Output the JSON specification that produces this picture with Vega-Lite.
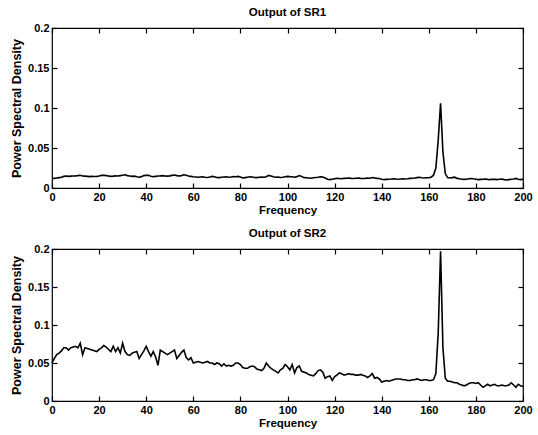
{
  "$schema": "https://vega.github.io/schema/vega-lite/v6.json",
  "background": "white",
  "padding": {"left": 9, "top": 5, "right": 5, "bottom": 5},
  "datasets": {
    "psd": [
      {"f":0,"sr1":0.0120,"sr2":0.050},{"f":1,"sr1":0.0120,"sr2":0.056},{"f":2,"sr1":0.0125,"sr2":0.061},{"f":3,"sr1":0.0130,"sr2":0.063},{"f":4,"sr1":0.0135,"sr2":0.066},
      {"f":5,"sr1":0.0145,"sr2":0.070},{"f":6,"sr1":0.0150,"sr2":0.070},{"f":7,"sr1":0.0145,"sr2":0.067},{"f":8,"sr1":0.0148,"sr2":0.070},{"f":9,"sr1":0.0150,"sr2":0.071},
      {"f":10,"sr1":0.0152,"sr2":0.072},{"f":11,"sr1":0.0155,"sr2":0.070},{"f":12,"sr1":0.0160,"sr2":0.076},{"f":13,"sr1":0.0150,"sr2":0.061},{"f":14,"sr1":0.0148,"sr2":0.070},
      {"f":15,"sr1":0.0145,"sr2":0.069},{"f":16,"sr1":0.0142,"sr2":0.068},{"f":17,"sr1":0.0145,"sr2":0.067},{"f":18,"sr1":0.0143,"sr2":0.066},{"f":19,"sr1":0.0145,"sr2":0.065},
      {"f":20,"sr1":0.0150,"sr2":0.068},{"f":21,"sr1":0.0158,"sr2":0.070},{"f":22,"sr1":0.0160,"sr2":0.073},{"f":23,"sr1":0.0155,"sr2":0.071},{"f":24,"sr1":0.0150,"sr2":0.068},
      {"f":25,"sr1":0.0145,"sr2":0.065},{"f":26,"sr1":0.0148,"sr2":0.072},{"f":27,"sr1":0.0152,"sr2":0.065},{"f":28,"sr1":0.0150,"sr2":0.070},{"f":29,"sr1":0.0155,"sr2":0.063},
      {"f":30,"sr1":0.0160,"sr2":0.076},{"f":31,"sr1":0.0165,"sr2":0.065},{"f":32,"sr1":0.0155,"sr2":0.061},{"f":33,"sr1":0.0150,"sr2":0.060},{"f":34,"sr1":0.0145,"sr2":0.063},
      {"f":35,"sr1":0.0148,"sr2":0.064},{"f":36,"sr1":0.0140,"sr2":0.065},{"f":37,"sr1":0.0135,"sr2":0.056},{"f":38,"sr1":0.0142,"sr2":0.061},{"f":39,"sr1":0.0155,"sr2":0.066},
      {"f":40,"sr1":0.0160,"sr2":0.072},{"f":41,"sr1":0.0158,"sr2":0.065},{"f":42,"sr1":0.0148,"sr2":0.059},{"f":43,"sr1":0.0140,"sr2":0.065},{"f":44,"sr1":0.0145,"sr2":0.058},
      {"f":45,"sr1":0.0150,"sr2":0.047},{"f":46,"sr1":0.0152,"sr2":0.067},{"f":47,"sr1":0.0155,"sr2":0.065},{"f":48,"sr1":0.0150,"sr2":0.063},{"f":49,"sr1":0.0148,"sr2":0.061},
      {"f":50,"sr1":0.0152,"sr2":0.063},{"f":51,"sr1":0.0158,"sr2":0.065},{"f":52,"sr1":0.0162,"sr2":0.067},{"f":53,"sr1":0.0155,"sr2":0.056},{"f":54,"sr1":0.0150,"sr2":0.060},
      {"f":55,"sr1":0.0155,"sr2":0.064},{"f":56,"sr1":0.0165,"sr2":0.067},{"f":57,"sr1":0.0160,"sr2":0.057},{"f":58,"sr1":0.0150,"sr2":0.054},{"f":59,"sr1":0.0145,"sr2":0.057},
      {"f":60,"sr1":0.0140,"sr2":0.050},{"f":61,"sr1":0.0138,"sr2":0.051},{"f":62,"sr1":0.0135,"sr2":0.052},{"f":63,"sr1":0.0138,"sr2":0.051},{"f":64,"sr1":0.0140,"sr2":0.050},
      {"f":65,"sr1":0.0135,"sr2":0.051},{"f":66,"sr1":0.0132,"sr2":0.052},{"f":67,"sr1":0.0138,"sr2":0.050},{"f":68,"sr1":0.0145,"sr2":0.050},{"f":69,"sr1":0.0140,"sr2":0.048},
      {"f":70,"sr1":0.0132,"sr2":0.050},{"f":71,"sr1":0.0130,"sr2":0.049},{"f":72,"sr1":0.0135,"sr2":0.046},{"f":73,"sr1":0.0138,"sr2":0.049},{"f":74,"sr1":0.0140,"sr2":0.046},
      {"f":75,"sr1":0.0135,"sr2":0.047},{"f":76,"sr1":0.0138,"sr2":0.046},{"f":77,"sr1":0.0142,"sr2":0.047},{"f":78,"sr1":0.0140,"sr2":0.050},{"f":79,"sr1":0.0145,"sr2":0.050},
      {"f":80,"sr1":0.0138,"sr2":0.048},{"f":81,"sr1":0.0125,"sr2":0.044},{"f":82,"sr1":0.0130,"sr2":0.043},{"f":83,"sr1":0.0135,"sr2":0.043},{"f":84,"sr1":0.0140,"sr2":0.045},
      {"f":85,"sr1":0.0138,"sr2":0.046},{"f":86,"sr1":0.0132,"sr2":0.045},{"f":87,"sr1":0.0130,"sr2":0.042},{"f":88,"sr1":0.0135,"sr2":0.041},{"f":89,"sr1":0.0138,"sr2":0.040},
      {"f":90,"sr1":0.0135,"sr2":0.043},{"f":91,"sr1":0.0140,"sr2":0.050},{"f":92,"sr1":0.0158,"sr2":0.046},{"f":93,"sr1":0.0150,"sr2":0.043},{"f":94,"sr1":0.0140,"sr2":0.041},
      {"f":95,"sr1":0.0135,"sr2":0.039},{"f":96,"sr1":0.0138,"sr2":0.037},{"f":97,"sr1":0.0132,"sr2":0.041},{"f":98,"sr1":0.0135,"sr2":0.043},{"f":99,"sr1":0.0140,"sr2":0.048},
      {"f":100,"sr1":0.0145,"sr2":0.045},{"f":101,"sr1":0.0142,"sr2":0.041},{"f":102,"sr1":0.0140,"sr2":0.048},{"f":103,"sr1":0.0135,"sr2":0.037},{"f":104,"sr1":0.0142,"sr2":0.044},
      {"f":105,"sr1":0.0155,"sr2":0.046},{"f":106,"sr1":0.0145,"sr2":0.039},{"f":107,"sr1":0.0130,"sr2":0.038},{"f":108,"sr1":0.0128,"sr2":0.037},{"f":109,"sr1":0.0125,"sr2":0.035},
      {"f":110,"sr1":0.0122,"sr2":0.034},{"f":111,"sr1":0.0128,"sr2":0.033},{"f":112,"sr1":0.0132,"sr2":0.036},{"f":113,"sr1":0.0135,"sr2":0.040},{"f":114,"sr1":0.0140,"sr2":0.041},
      {"f":115,"sr1":0.0138,"sr2":0.038},{"f":116,"sr1":0.0125,"sr2":0.030},{"f":117,"sr1":0.0110,"sr2":0.032},{"f":118,"sr1":0.0105,"sr2":0.033},{"f":119,"sr1":0.0110,"sr2":0.027},
      {"f":120,"sr1":0.0115,"sr2":0.032},{"f":121,"sr1":0.0120,"sr2":0.034},{"f":122,"sr1":0.0118,"sr2":0.037},{"f":123,"sr1":0.0115,"sr2":0.036},{"f":124,"sr1":0.0120,"sr2":0.034},
      {"f":125,"sr1":0.0122,"sr2":0.035},{"f":126,"sr1":0.0125,"sr2":0.036},{"f":127,"sr1":0.0120,"sr2":0.035},{"f":128,"sr1":0.0118,"sr2":0.035},{"f":129,"sr1":0.0122,"sr2":0.034},
      {"f":130,"sr1":0.0125,"sr2":0.034},{"f":131,"sr1":0.0120,"sr2":0.035},{"f":132,"sr1":0.0118,"sr2":0.034},{"f":133,"sr1":0.0120,"sr2":0.033},{"f":134,"sr1":0.0125,"sr2":0.031},
      {"f":135,"sr1":0.0122,"sr2":0.033},{"f":136,"sr1":0.0130,"sr2":0.036},{"f":137,"sr1":0.0125,"sr2":0.030},{"f":138,"sr1":0.0120,"sr2":0.031},{"f":139,"sr1":0.0118,"sr2":0.029},
      {"f":140,"sr1":0.0110,"sr2":0.025},{"f":141,"sr1":0.0105,"sr2":0.026},{"f":142,"sr1":0.0108,"sr2":0.027},{"f":143,"sr1":0.0110,"sr2":0.026},{"f":144,"sr1":0.0112,"sr2":0.027},
      {"f":145,"sr1":0.0115,"sr2":0.028},{"f":146,"sr1":0.0112,"sr2":0.029},{"f":147,"sr1":0.0110,"sr2":0.029},{"f":148,"sr1":0.0112,"sr2":0.029},{"f":149,"sr1":0.0115,"sr2":0.028},
      {"f":150,"sr1":0.0112,"sr2":0.028},{"f":151,"sr1":0.0115,"sr2":0.027},{"f":152,"sr1":0.0120,"sr2":0.027},{"f":153,"sr1":0.0122,"sr2":0.028},{"f":154,"sr1":0.0125,"sr2":0.028},
      {"f":155,"sr1":0.0130,"sr2":0.029},{"f":156,"sr1":0.0135,"sr2":0.028},{"f":157,"sr1":0.0128,"sr2":0.027},{"f":158,"sr1":0.0125,"sr2":0.028},{"f":159,"sr1":0.0128,"sr2":0.028},
      {"f":160,"sr1":0.0130,"sr2":0.027},{"f":161,"sr1":0.0135,"sr2":0.027},{"f":162,"sr1":0.0160,"sr2":0.028},{"f":163,"sr1":0.0250,"sr2":0.036},{"f":164,"sr1":0.0600,"sr2":0.090},
      {"f":165,"sr1":0.1060,"sr2":0.197},{"f":166,"sr1":0.0450,"sr2":0.070},{"f":167,"sr1":0.0180,"sr2":0.030},{"f":168,"sr1":0.0130,"sr2":0.026},{"f":169,"sr1":0.0125,"sr2":0.026},
      {"f":170,"sr1":0.0130,"sr2":0.025},{"f":171,"sr1":0.0135,"sr2":0.024},{"f":172,"sr1":0.0120,"sr2":0.024},{"f":173,"sr1":0.0115,"sr2":0.022},{"f":174,"sr1":0.0110,"sr2":0.021},
      {"f":175,"sr1":0.0108,"sr2":0.020},{"f":176,"sr1":0.0110,"sr2":0.021},{"f":177,"sr1":0.0115,"sr2":0.023},{"f":178,"sr1":0.0118,"sr2":0.024},{"f":179,"sr1":0.0115,"sr2":0.024},
      {"f":180,"sr1":0.0110,"sr2":0.023},{"f":181,"sr1":0.0105,"sr2":0.024},{"f":182,"sr1":0.0108,"sr2":0.021},{"f":183,"sr1":0.0110,"sr2":0.018},{"f":184,"sr1":0.0112,"sr2":0.020},
      {"f":185,"sr1":0.0108,"sr2":0.022},{"f":186,"sr1":0.0105,"sr2":0.020},{"f":187,"sr1":0.0110,"sr2":0.021},{"f":188,"sr1":0.0108,"sr2":0.022},{"f":189,"sr1":0.0105,"sr2":0.020},
      {"f":190,"sr1":0.0110,"sr2":0.020},{"f":191,"sr1":0.0112,"sr2":0.021},{"f":192,"sr1":0.0105,"sr2":0.020},{"f":193,"sr1":0.0100,"sr2":0.020},{"f":194,"sr1":0.0105,"sr2":0.021},
      {"f":195,"sr1":0.0110,"sr2":0.024},{"f":196,"sr1":0.0112,"sr2":0.021},{"f":197,"sr1":0.0120,"sr2":0.018},{"f":198,"sr1":0.0110,"sr2":0.022},{"f":199,"sr1":0.0105,"sr2":0.020},
      {"f":200,"sr1":0.0110,"sr2":0.019}
    ]
  },
  "spacing": 9,
  "vconcat": [
    {
      "title": {"text": "Output of SR1"},
      "width": 471,
      "height": 160,
      "data": {"name": "psd"},
      "layer": [
        {
          "mark": {"type": "line", "color": "black", "strokeWidth": 1.6},
          "encoding": {
            "x": {"field": "f", "type": "quantitative", "scale": {"domain": [0, 200], "nice": false}, "axis": {"title": "Frequency", "orient": "bottom", "values": [0,20,40,60,80,100,120,140,160,180,200]}},
            "y": {"field": "sr1", "type": "quantitative", "scale": {"domain": [0, 0.2], "nice": false, "zero": true}, "axis": {"title": "Power Spectral Density", "orient": "left", "format": "~g", "values": [0,0.05,0.1,0.15,0.2]}}
          }
        },
        {
          "mark": {"type": "line", "opacity": 0},
          "encoding": {
            "x": {"field": "f", "type": "quantitative", "axis": {"orient": "top", "labels": false, "labelPadding": 0, "title": null, "values": [0,20,40,60,80,100,120,140,160,180,200]}},
            "y": {"field": "sr1", "type": "quantitative", "axis": {"orient": "right", "labels": false, "labelPadding": 0, "title": null, "values": [0,0.05,0.1,0.15,0.2]}}
          }
        }
      ],
      "resolve": {"axis": {"x": "independent", "y": "independent"}}
    },
    {
      "title": {"text": "Output of SR2"},
      "width": 471,
      "height": 152,
      "data": {"name": "psd"},
      "layer": [
        {
          "mark": {"type": "line", "color": "black", "strokeWidth": 1.6},
          "encoding": {
            "x": {"field": "f", "type": "quantitative", "scale": {"domain": [0, 200], "nice": false}, "axis": {"title": "Frequency", "orient": "bottom", "values": [0,20,40,60,80,100,120,140,160,180,200]}},
            "y": {"field": "sr2", "type": "quantitative", "scale": {"domain": [0, 0.2], "nice": false, "zero": true}, "axis": {"title": "Power Spectral Density", "orient": "left", "format": "~g", "values": [0,0.05,0.1,0.15,0.2]}}
          }
        },
        {
          "mark": {"type": "line", "opacity": 0},
          "encoding": {
            "x": {"field": "f", "type": "quantitative", "axis": {"orient": "top", "labels": false, "labelPadding": 0, "title": null, "values": [0,20,40,60,80,100,120,140,160,180,200]}},
            "y": {"field": "sr2", "type": "quantitative", "axis": {"orient": "right", "labels": false, "labelPadding": 0, "title": null, "values": [0,0.05,0.1,0.15,0.2]}}
          }
        }
      ],
      "resolve": {"axis": {"x": "independent", "y": "independent"}}
    }
  ],
  "config": {
    "view": {"stroke": "black", "strokeWidth": 1.2},
    "font": "Liberation Sans",
    "title": {"font": "Liberation Sans", "fontSize": 11.5, "fontWeight": "bold", "color": "black", "offset": 0},
    "axis": {
      "grid": false,
      "domain": false,
      "tickColor": "black",
      "tickSize": -5,
      "tickWidth": 1.2,
      "labelFont": "Liberation Sans",
      "labelFontSize": 11,
      "labelFontWeight": "bold",
      "labelColor": "black",
      "labelPadding": 8,
      "labelFlush": false,
      "labelOverlap": false,
      "titleFont": "Liberation Sans",
      "titleFontSize": 11.5,
      "titleFontWeight": "bold",
      "titleColor": "black",
      "titlePadding": 2
    },
    "axisLeft": {"titleFontSize": 12.5, "titlePadding": 4}
  }
}
